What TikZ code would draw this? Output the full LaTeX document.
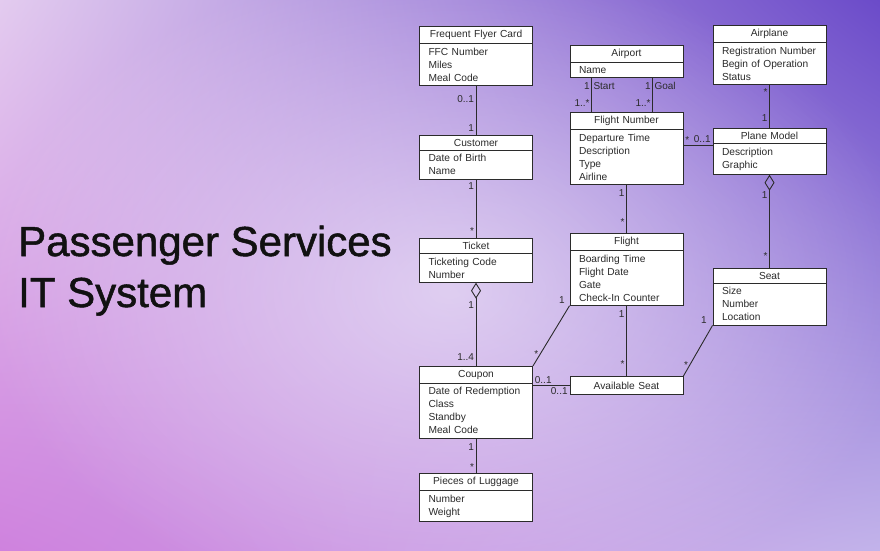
\documentclass[tikz,border=0pt]{standalone}
\usepackage{fontspec}
\setmainfont{Liberation Sans}
\newfontface\titlefont[FakeBold=1.2]{Liberation Sans}
\usetikzlibrary{arrows.meta,shapes.multipart,positioning,calc,fadings,shadings}
\definecolor{bgtl}{HTML}{E3CBEF}
\definecolor{bgtr}{HTML}{6B4BC9}
\definecolor{bgbl}{HTML}{CF82DE}
\definecolor{bgbr}{HTML}{C2B3EA}
\definecolor{umlline}{HTML}{2B2B2B}
\definecolor{titletext}{HTML}{111111}
\tikzfading[name=glow, inner color=transparent!0, outer color=transparent!100]
\tikzset{
  umlclass/.style={
    rectangle split, rectangle split parts=2,
    draw=umlline, line width=0.9pt, fill=white,
    font=\fontsize{10.2}{13}\selectfont, text=umlline,
    text width=95pt, inner xsep=9pt, inner ysep=3.5pt,
    align=left, anchor=north
  },
  umlbox/.style={
    rectangle, draw=umlline, line width=0.9pt, fill=white,
    font=\fontsize{10.2}{13}\selectfont, text=umlline,
    text width=95pt, inner xsep=9pt, align=center,
    minimum height=18pt, anchor=north
  },
  assoc/.style={draw=umlline, line width=0.9pt},
  aggr/.style={assoc, {Diamond[open, length=16pt, width=10pt]}-},
  mult/.style={font=\fontsize{10}{12}\selectfont, text=umlline, inner sep=1.5pt},
  title/.style={font=\titlefont\fontsize{42}{51}\selectfont, text=titletext,
    anchor=base west, inner sep=0pt}
}

\begin{document}
\begin{tikzpicture}[x=1pt, y=-1pt]
  \useasboundingbox (0,0) rectangle (880,550);

  % background
  \shade[upper left=bgtl, upper right=bgtr, lower left=bgbl, lower right=bgbr]
    (0,0) rectangle (880,550);
  \fill[white, fill opacity=0.55, path fading=glow]
    (450,290) ellipse (470 and 330);

  % title
  \node[title] (title1) at (18,256) {Passenger Services};
  \node[title] (title2) at ([yshift=-51pt]title1.base west) {IT System};

  % left column
  \node[umlclass] (ffc) at (476,26)
    {\centering Frequent Flyer Card\par \nodepart{second} FFC Number\\ Miles\\ Meal Code};
  \node[umlclass] (cust) at (476,135)
    {\centering Customer\par \nodepart{second} Date of Birth\\ Name};
  \node[umlclass] (ticket) at (476,238)
    {\centering Ticket\par \nodepart{second} Ticketing Code\\ Number};
  \node[umlclass] (coupon) at (476,366)
    {\centering Coupon\par \nodepart{second} Date of Redemption\\ Class\\ Standby\\ Meal Code};
  \node[umlclass] (lug) at (476,473)
    {\centering Pieces of Luggage\par \nodepart{second} Number\\ Weight};

  % middle column
  \node[umlclass] (airport) at (626.5,45)
    {\centering Airport\par \nodepart{second} Name};
  \node[umlclass] (fnum) at (626.5,112)
    {\centering Flight Number\par \nodepart{second} Departure Time\\ Description\\ Type\\ Airline};
  \node[umlclass] (flight) at (626.5,233)
    {\centering Flight\par \nodepart{second} Boarding Time\\ Flight Date\\ Gate\\ Check-In Counter};
  \node[umlbox] (avseat) at (626.5,376) {Available Seat};

  % right column
  \node[umlclass] (airplane) at (769.5,25)
    {\centering Airplane\par \nodepart{second} Registration Number\\ Begin of Operation\\ Status};
  \node[umlclass] (pmodel) at (769.5,128)
    {\centering Plane Model\par \nodepart{second} Description\\ Graphic};
  \node[umlclass] (seat) at (769.5,268)
    {\centering Seat\par \nodepart{second} Size\\ Number\\ Location};

  % associations
  \draw[assoc] (ffc.south) --
    node[mult, pos=0.27, left]{0..1} node[mult, pos=0.85, left]{1} (cust.north);
  \draw[assoc] (cust.south) --
    node[mult, pos=0.12, left]{1} node[mult, pos=0.88, left]{*} (ticket.north);
  \draw[aggr] (ticket.south) --
    node[mult, pos=0.27, left]{1} node[mult, pos=0.89, left]{1..4} (coupon.north);
  \draw[assoc] (coupon.south) --
    node[mult, pos=0.25, left]{1} node[mult, pos=0.83, left]{*} (lug.north);

  \draw[assoc] ([xshift=22pt]airport.south west) --
    node[mult, pos=0.22, left]{1} node[mult, pos=0.22, right]{Start}
    node[mult, pos=0.73, left]{1..*} ([xshift=22pt]fnum.north west);
  \draw[assoc] ([xshift=83pt]airport.south west) --
    node[mult, pos=0.22, left]{1} node[mult, pos=0.22, right]{Goal}
    node[mult, pos=0.73, left]{1..*} ([xshift=83pt]fnum.north west);
  \draw[assoc] (fnum.south) --
    node[mult, pos=0.18, left]{1} node[mult, pos=0.78, left]{*} (flight.north);
  \draw[assoc] (flight.south) --
    node[mult, pos=0.125, left]{1} node[mult, pos=0.83, left]{*} (avseat.north);
  \draw[assoc] ([yshift=-33pt]fnum.north east) --
    node[mult, pos=0, above right]{*} node[mult, pos=1, above left]{0..1}
    ([yshift=-33pt]fnum.north east -| pmodel.west);

  \draw[assoc] (airplane.south) --
    node[mult, pos=0.16, left]{*} node[mult, pos=0.78, left]{1} (pmodel.north);
  \draw[aggr] (pmodel.south) --
    node[mult, pos=0.22, left]{1} node[mult, pos=0.87, left]{*} (seat.north);
  \draw[assoc] (seat.south west) --
    node[mult, pos=0, above left, xshift=-4pt]{1}
    node[mult, pos=0.78, left]{*} (avseat.north east);

  \draw[assoc] (coupon.north east) --
    node[mult, pos=0.2, left]{*}
    node[mult, pos=1, above left, xshift=-3pt]{1} (flight.south west);
  \draw[assoc] (avseat.west -| coupon.east) --
    node[mult, pos=0, above right]{0..1} node[mult, pos=1, below left]{0..1}
    (avseat.west);

\end{tikzpicture}
\end{document}
